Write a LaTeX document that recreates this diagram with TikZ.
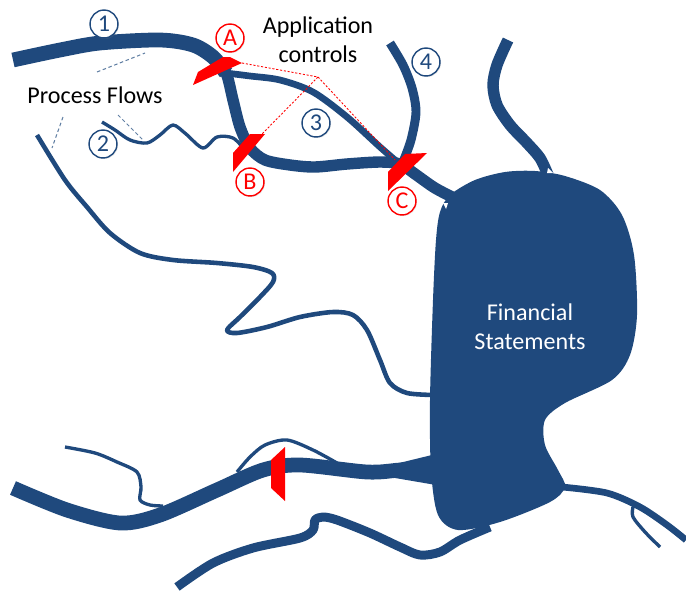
\documentclass[tikz,border=0pt]{standalone}
\usepackage{fontspec}
\setmainfont{Carlito}
\usetikzlibrary{shadows}
\definecolor{riverblue}{RGB}{31,73,125}

\begin{document}
\begin{tikzpicture}[x=0.02cm, y=-0.02cm,
    river/.style={draw=riverblue, line join=round},
    wide/.style={river, line width=8.4pt},
    main/.style={river, line width=6.5pt},
    mid/.style={river, line width=5.1pt},
    narrow/.style={river, line width=3.8pt},
    thin/.style={river, line width=2.6pt},
    hair/.style={river, line width=1.9pt},
    lbl/.style={font=\fontsize{13.7}{16.5}\selectfont, align=center},
    num/.style={circle, draw=riverblue, line width=0.8pt, text=riverblue, fill=white,
        minimum size=15.9pt, inner sep=0pt, font=\fontsize{13.7}{14}\selectfont,
        drop shadow={opacity=0.2, shadow xshift=0.6pt, shadow yshift=-0.6pt}},
    ctl/.style={num, draw=red, text=red},
    gate/.style={fill=red},
    leader/.style={draw=riverblue!70, line width=0.6pt, dash pattern=on 2pt off 1.5pt},
    wire/.style={draw=red, line width=0.5pt, dash pattern=on 1.2pt off 1pt}
]
\useasboundingbox (0,0) rectangle (686,592);

% Lake
\fill[riverblue] plot[smooth cycle] coordinates {
    (450,195) (475,180) (505,172) (535,171) (565,176) (600,190) (622,215)
    (634,255) (637,315) (630,355) (612,380) (565,403) (545,420) (545,445)
    (558,470) (565,487) (550,502) (500,522) (458,530) (438,515) (431,470)
    (430,400) (433,300) (436,240) (440,212)};

% Upper rivers
\draw[main] plot[smooth] coordinates {
    (193,45) (213,57) (226,73) (233,100) (240,127) (250,148) (265,160)
    (290,165) (315,167) (347,164) (380,162) (400,164) (415,174) (435,188)
    (458,200)};
\draw[wide] plot[smooth] coordinates {
    (13,60) (60,50) (100,43) (160,40) (193,45) (213,57) (226,73)};
\draw[narrow] plot[smooth] coordinates {
    (226,73) (250,76) (280,80) (313,92) (347,117) (380,147) (402,166)};
\draw[mid] plot[smooth] coordinates {
    (390,43) (403,65) (412,88) (416,112) (411,140) (403,162)};
\draw[main] plot[smooth] coordinates {
    (508,40) (497,65) (493,85) (497,105) (510,125) (527,143) (540,158) (548,175)};
\draw[hair] plot[smooth] coordinates {
    (102,122) (115,130) (130,140) (147,143) (160,135) (173,125) (186,134)
    (203,148) (217,137) (233,138) (245,150)};
\draw[thin] plot[smooth] coordinates {
    (37,135) (65,180) (87,207) (110,233) (140,253) (173,260) (217,263)
    (253,267) (272,273) (273,282) (260,297) (240,317) (227,330) (237,333)
    (267,327) (300,317) (333,312) (353,315) (367,330) (380,360) (390,383)
    (407,393) (434,395)};

% Lower rivers
\draw[wide] plot[smooth] coordinates {
    (13,488) (67,510) (120,523) (160,515) (217,490) (263,470) (300,465)
    (367,472) (400,470) (436,467)};
\fill[riverblue] (395,464) -- (436,454) -- (436,485) -- (395,478) -- cycle;
\draw[hair] plot[smooth] coordinates {
    (65,447) (95,453) (117,462) (137,472) (141,487) (140,500) (150,505) (163,506)};
\draw[hair] plot[smooth] coordinates {
    (237,472) (250,457) (265,445) (287,440) (313,450) (337,463)};
\draw[mid] plot[smooth] coordinates {
    (177,587) (213,563) (253,548) (300,538) (313,530) (315,520) (323,517)
    (337,520) (370,533) (400,547) (420,555) (440,552) (460,540) (490,527)};
\draw[narrow] plot[smooth] coordinates {
    (562,487) (607,493) (640,507) (667,525) (686,540)};
\draw[hair] plot[smooth] coordinates {
    (633,507) (633,517) (645,532) (660,547)};

% Gaps where the streams meet
\fill[white] (443,203) -- (448,203) -- (446,209) -- cycle;
\fill[white] (548,168) -- (553,173) -- (547,173) -- cycle;

% Controls
\fill[gate] (193,85) -- (198,72) -- (223,57) -- (230,57) -- (242,63) -- cycle;
\fill[gate] (233,172) -- (233,153) -- (250,134) -- (265,134) -- cycle;
\fill[gate] (388,191) -- (388,172) -- (405,154) -- (427,153) -- cycle;
\fill[gate] (271,460) -- (285,447) -- (285,501) -- (271,488) -- cycle;

\coordinate (hub) at (318,77);
\coordinate (tipA) at (242,63);
\coordinate (tipB) at (262,134);
\coordinate (tipC) at (395,160);
\draw[wire] (tipA) -- (hub) -- (tipB);
\draw[wire] (hub) -- (tipC);

% Process flows
\node[lbl] (flows) at (95,95) {Process Flows};
\coordinate (f1a) at (97,72);
\coordinate (f1b) at (145,53);
\coordinate (f2a) at (63,117);
\coordinate (f2b) at (52,148);
\coordinate (f3a) at (118,115);
\coordinate (f3b) at (143,140);
\draw[leader] (f1a) -- (f1b);
\draw[leader] (f2a) -- (f2b);
\draw[leader] (f3a) -- (f3b);

\node[num] (n1) at (104,24) {1};
\node[num] (n2) at (103,144) {2};
\node[num] (n3) at (316,123) {3};
\node[num] (n4) at (426,62) {4};

\node[lbl] (appctl) at (318,40) {Application\\controls};
\node[ctl] (ctlA) at (230,38) {A};
\node[ctl] (ctlB) at (250,182) {B};
\node[ctl] (ctlC) at (402,201) {C};

\node[lbl, text=white] (fs) at (530,327) {Financial\\Statements};

\end{tikzpicture}
\end{document}
